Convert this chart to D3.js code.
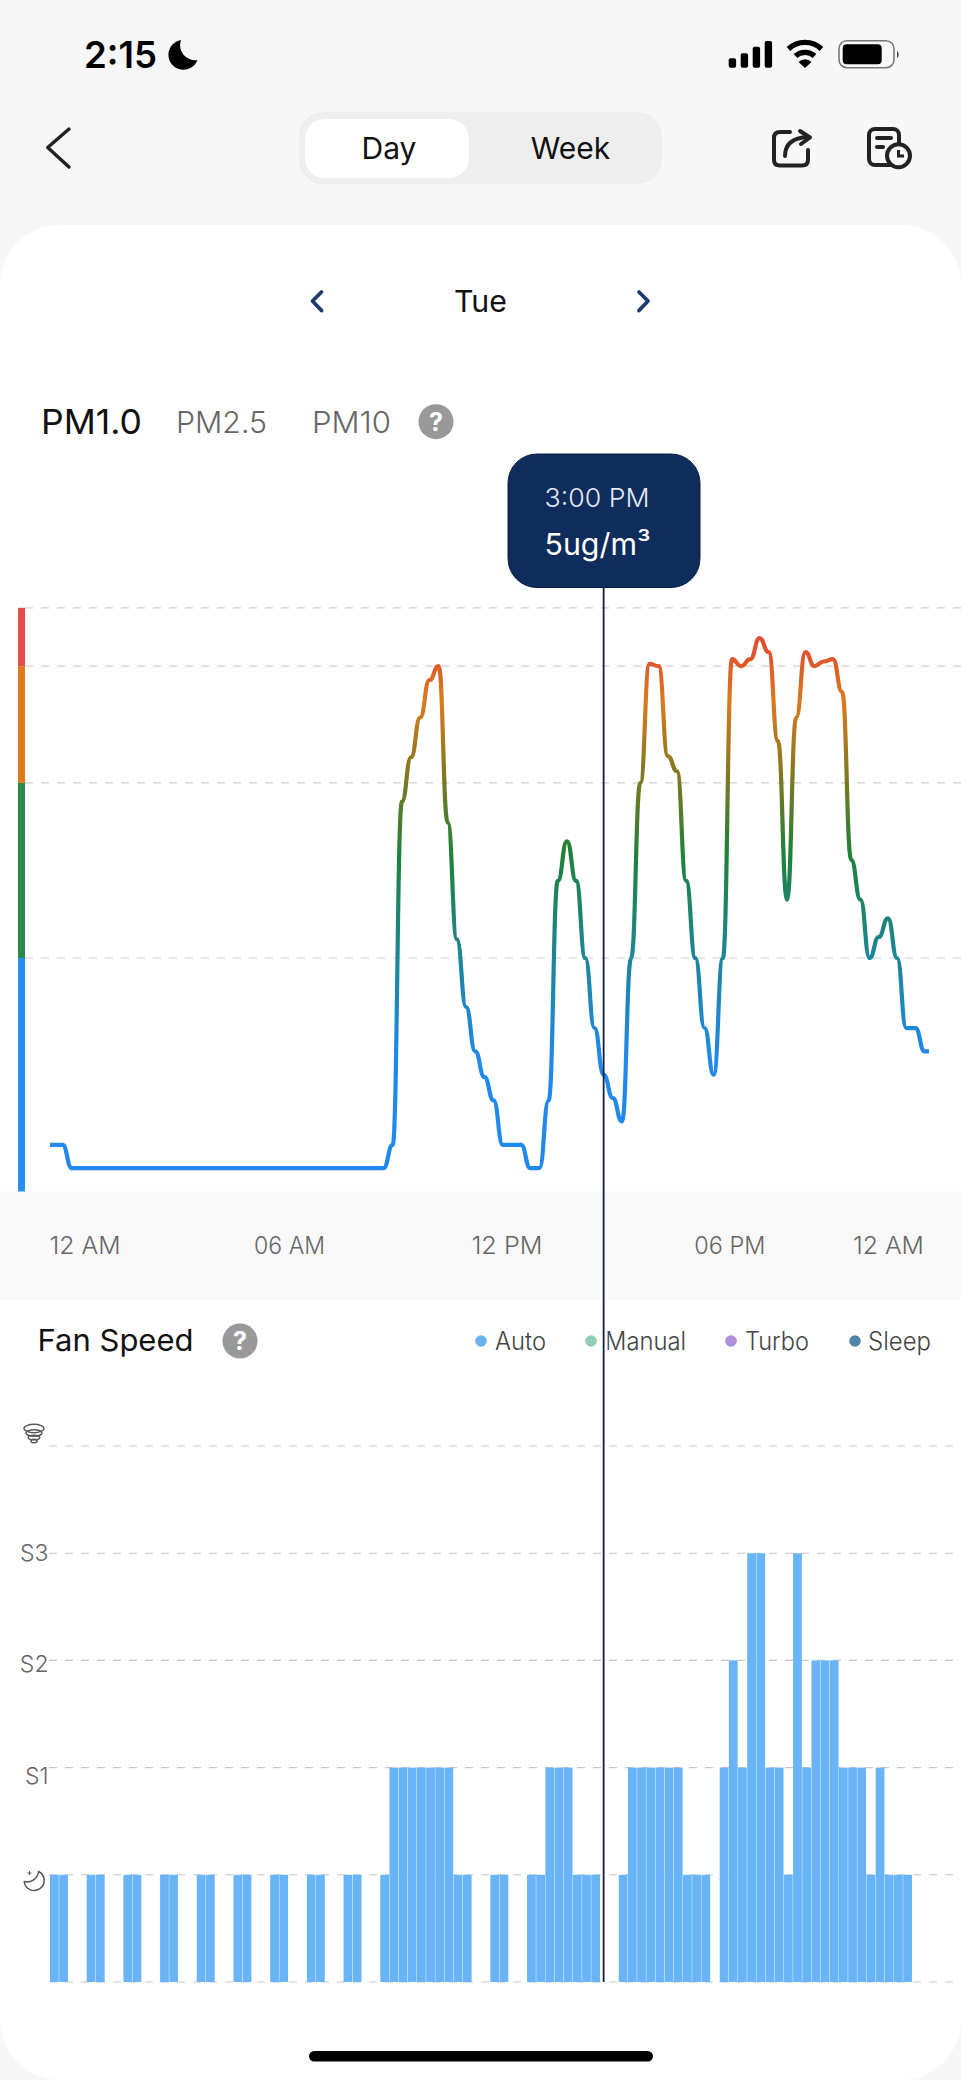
<!DOCTYPE html>
<html>
<head>
<meta charset="utf-8">
<style>
html,body{margin:0;padding:0;background:#f7f7f7;overflow:hidden}
svg{display:block}
text{font-family:Inter,"Noto Sans",sans-serif}
</style>
<script src="https://cdn.jsdelivr.net/npm/d3@7/dist/d3.min.js"></script>
</head>
<body>
<svg id="c" width="961" height="2080" viewBox="0 0 961 2080"></svg>
<script>
// ---- Data ----
const pmValues = [
 2,2,1,1,1,1,1,1,1,1,1,1,1,1,1,1,1,1,1,1,1,1,1,1,          // 12 AM - 6 AM
 1,1,1,1,1,1,1,1,1,1,1,1,1,2,16.7,18.6,20.3,21.9,22.5,15.8, // 6 AM - 12 PM
 10.8,7.9,6,4.9,3.9,2,2,2,1,1,3.9,13.3,15,13.3,10,7,        //
 5,4,3,10,17.5,22.6,22.5,18.65,18,13.3,10,7,5,10,22.8,22.5, // 3 PM -
 22.8,23.7,23.1,19.3,12.5,20.3,23.1,22.5,22.7,22.8,21.4,14.2,12.5,10,10.9,11.7,
 10,7,7,6
];
const pmLevels = [10, 17.5, 22.5, 25];
const pmBandColors = ["#2b8ff0", "#2a8a4e", "#dd7a1c", "#e05050"];
const pmTabs = ["PM1.0", "PM2.5", "PM10"];
const xTickSlots = [3.4, 25.7, 49.4, 73.7, 91];
const xTickLabels = ["12 AM", "06 AM", "12 PM", "06 PM", "12 AM"];

const fanValues = [
 1,1,0,0,1,1,0,0,1,1,0,0,1,1,0,0,1,1,0,0,1,1,0,0,
 1,1,0,0,1,1,0,0,1,1,0,0,1,2,2,2,2,2,2,2,1,1,0,0,
 1,1,0,0,1,1,2,2,2,1,1,1,0,0,1,2,2,2,2,2,2,1,1,1,
 0,2,3,2,4,4,2,2,1,4,2,3,3,3,2,2,2,1,2,1,1,1,0,0
];
const fanLevels = [0, 1, 2, 3, 4, 5];
const fanTickLabels = ["S1", "S2", "S3"];
const legendNames = ["Auto", "Manual", "Turbo", "Sleep"];
const legendColors = ["#69b4f0", "#8fcdb4", "#ac90dc", "#4f86a8"];
const selectedSlot = 60;
const tipTime = "3:00 PM";
const tipValue = "5ug/m³";

// ---- Scales ----
const svg = d3.select("#c");
const xLine = d3.scaleLinear().domain([0, 95]).range([53.4, 924.6]);
const yPm = d3.scaleLinear().domain([0, 25]).range([1191.5, 607.8]);
const xBar = d3.scaleBand().domain(d3.range(96)).range([50, 930.3]).paddingInner(0.045).paddingOuter(0);
const yFan = d3.scaleLinear().domain([0, 5]).range([1982, 1446]);

function T(x, y, s, size, weight, fill, opt) {
  opt = opt || {};
  const t = svg.append("text").attr("x", x).attr("y", y).text(s)
    .attr("font-size", size).attr("font-weight", weight).attr("fill", fill)
    .attr("text-anchor", opt.anchor || "start");
  if (opt.width) t.attr("textLength", opt.width).attr("lengthAdjust", "spacingAndGlyphs");
  return t;
}

// ---- Page and cards ----
svg.append("rect").attr("width", 961).attr("height", 2080).attr("fill", "#f7f7f7");
svg.append("path").attr("fill", "#ffffff")
  .attr("d", "M0 285 A60 60 0 0 1 60 225 H901 A60 60 0 0 1 961 285 V2020 A60 60 0 0 1 901 2080 H60 A60 60 0 0 1 0 2020 Z");
svg.append("rect").attr("x", 0).attr("y", yPm(0)).attr("width", 961).attr("height", 1300 - yPm(0)).attr("fill", "#f9f9f9");
svg.append("rect").attr("x", xLine(selectedSlot) - 3.6).attr("y", 1280).attr("width", 7.4).attr("height", 20).attr("fill", "#ffffff");

// ---- Status bar ----
T(84, 67.5, "2:15", 37, 600, "#000", {width: 73});
svg.append("path").attr("fill", "#000").attr("d", "M181 40 A15 15 0 1 0 197.5 60 A15 15 0 0 1 181 40 Z");
[[728.7, 58.3], [740.7, 53.3], [752.7, 46.7], [764.7, 41]].forEach(b => {
  svg.append("rect").attr("x", b[0]).attr("y", b[1]).attr("width", 7.4).attr("height", 67.7 - b[1]).attr("rx", 2).attr("fill", "#000");
});
const wifi = svg.append("g").attr("fill", "none").attr("stroke", "#000").attr("stroke-width", 5.2);
wifi.append("path").attr("d", "M788.5 49 A24 24 0 0 1 821.5 49");
wifi.append("path").attr("d", "M795.5 56 A14 14 0 0 1 814.5 56");
svg.append("path").attr("fill", "#000").attr("d", "M798.5 62 A9 9 0 0 1 811.5 62 L805 68 Z");
svg.append("rect").attr("x", 839).attr("y", 40.7).attr("width", 55).attr("height", 27).attr("rx", 8).attr("fill", "none").attr("stroke", "#777").attr("stroke-width", 1.6);
svg.append("rect").attr("x", 842.7).attr("y", 44.3).attr("width", 39).attr("height", 20).attr("rx", 4).attr("fill", "#000");
svg.append("path").attr("fill", "#444").attr("d", "M897 50.7 Q900.5 54.5 897 58.3 Z");

// ---- Navigation ----
const navStroke = {fill: "none", stroke: "#222", "stroke-width": 3.4, "stroke-linecap": "round", "stroke-linejoin": "round"};
function P(d, attrs) { const p = svg.append("path").attr("d", d); Object.entries(attrs).forEach(e => p.attr(e[0], e[1])); return p; }
P("M69 129 L47.7 147.5 L69 167", navStroke);
svg.append("rect").attr("x", 299).attr("y", 112).attr("width", 363).attr("height", 72).attr("rx", 24).attr("fill", "#eeeeee");
svg.append("rect").attr("x", 305).attr("y", 119).attr("width", 164).attr("height", 59).attr("rx", 20).attr("fill", "#ffffff");
T(389, 159, "Day", 30, 400, "#111", {anchor: "middle"});
T(570.5, 159, "Week", 30, 400, "#111", {anchor: "middle"});

const iconStroke = {fill: "none", stroke: "#222", "stroke-width": 4, "stroke-linecap": "round", "stroke-linejoin": "round"};
P("M790 132 H780 Q774 132 774 138 V160 Q774 165.5 780 165.5 H802 Q808 165.5 808 160 V150", iconStroke);
P("M785 156 Q785 138 808 137", iconStroke);
P("M800 131 L810 137.5 L801 144", iconStroke);
svg.append("rect").attr("x", 869).attr("y", 129).attr("width", 30).attr("height", 36).attr("rx", 6).attr("fill", "none").attr("stroke", "#222").attr("stroke-width", 4);
P("M877 138 H891", iconStroke);
P("M877 147 H883", iconStroke);
svg.append("circle").attr("cx", 898.5).attr("cy", 155.7).attr("r", 11.5).attr("fill", "#f7f7f7").attr("stroke", "#222").attr("stroke-width", 4);
P("M898.5 150 V156 H904", {fill: "none", stroke: "#222", "stroke-width": 3});

// ---- Date row ----
const chev = {fill: "none", stroke: "#1c3a6e", "stroke-width": 3.8, "stroke-linecap": "round", "stroke-linejoin": "round"};
P("M321.5 292 L312.5 301 L321.5 310.5", chev);
P("M639 292 L648 301 L639 310.5", chev);
T(480.5, 311.5, "Tue", 30, 400, "#111", {anchor: "middle", width: 53});

// ---- Pollutant tabs ----
T(41, 434, pmTabs[0], 34, 400, "#111", {width: 101});
T(176, 433, pmTabs[1], 30, 300, "#666", {width: 91});
T(312, 433, pmTabs[2], 30, 300, "#666", {width: 79});
function helpIcon(cx, cy) {
  svg.append("circle").attr("cx", cx).attr("cy", cy).attr("r", 17.5).attr("fill", "#999");
  T(cx, cy + 9, "?", 25, 700, "#fff", {anchor: "middle"});
}
helpIcon(436, 421.7);

// ---- PM chart ----
const defs = svg.append("defs");
const grad = defs.append("linearGradient").attr("id", "pmGrad").attr("gradientUnits", "userSpaceOnUse")
  .attr("x1", 0).attr("x2", 0).attr("y1", yPm(0)).attr("y2", yPm(25));
[[0.22, "#2189ee"], [0.38, "#1c86a4"], [0.58, "#1f8238"], [0.72, "#857820"], [0.84, "#dc7a1e"], [0.92, "#df532c"], [1, "#e04a44"]]
  .forEach(s => grad.append("stop").attr("offset", s[0]).attr("stop-color", s[1]));

svg.append("g").selectAll("line").data(pmLevels).join("line")
  .attr("x1", 25).attr("x2", 961).attr("y1", d => yPm(d)).attr("y2", d => yPm(d))
  .attr("stroke", "#cfcfcf").attr("stroke-width", 1.2).attr("stroke-dasharray", "8 8");

const bandEdges = [0].concat(pmLevels);
svg.append("g").selectAll("rect").data(pmBandColors).join("rect")
  .attr("x", 18).attr("width", 7)
  .attr("y", (d, i) => yPm(bandEdges[i + 1]))
  .attr("height", (d, i) => yPm(bandEdges[i]) - yPm(bandEdges[i + 1]))
  .attr("fill", d => d);

const pmPoints = pmValues.map((v, i) => [i, v]);
pmPoints.unshift([xLine.invert(50), pmValues[0]]);
pmPoints.push([xLine.invert(929), pmValues[pmValues.length - 1]]);
const lineGen = d3.line().x(d => xLine(d[0])).y(d => yPm(d[1])).curve(d3.curveBumpX);
svg.append("path").datum(pmPoints).attr("d", lineGen).attr("fill", "none")
  .attr("stroke", "url(#pmGrad)").attr("stroke-width", 4.2).attr("stroke-linejoin", "round");

// ---- X axis ----
const xAxis = d3.axisBottom(xLine).tickValues(xTickSlots).tickSize(0).tickPadding(0)
  .tickFormat((d, i) => xTickLabels[i]);
const gx = svg.append("g").attr("transform", "translate(0,1254)").call(xAxis);
gx.select(".domain").remove();
gx.selectAll("text").attr("dy", 0).attr("font-size", 24).attr("font-weight", 300).attr("fill", "#666")
  .attr("font-family", "Inter").attr("textLength", 71).attr("lengthAdjust", "spacingAndGlyphs");

// ---- Fan speed ----
T(37.5, 1351, "Fan Speed", 30, 400, "#111", {width: 156});
helpIcon(240, 1341);
const legendDots = [481, 591, 731, 855];
const legendText = [[495, 51], [605, 81], [745, 64], [868, 63]];
legendNames.forEach((n, i) => {
  svg.append("circle").attr("cx", legendDots[i]).attr("cy", 1341).attr("r", 5.8).attr("fill", legendColors[i]);
  T(legendText[i][0], 1349.5, n, 25, 300, "#444", {width: legendText[i][1]});
});

svg.append("rect").attr("x", xLine(selectedSlot) - 3.6).attr("y", 1300).attr("width", 7.4).attr("height", 680).attr("fill", "#ffffff");
svg.append("g").selectAll("line").data(fanLevels).join("line")
  .attr("x1", 49).attr("x2", 961).attr("y1", d => yFan(d)).attr("y2", d => yFan(d))
  .attr("stroke", "#c8c8c8").attr("stroke-width", 1.1).attr("stroke-dasharray", "8 8");

svg.append("g").selectAll("rect").data(fanValues.map((v, i) => ({i, v})).filter(d => d.v > 0)).join("rect")
  .attr("x", d => xBar(d.i)).attr("width", xBar.bandwidth())
  .attr("y", d => yFan(d.v)).attr("height", d => yFan(0) - yFan(d.v))
  .attr("fill", "#69b3f7");

const yAxis = d3.axisLeft(yFan).tickValues([2, 3, 4]).tickSize(0).tickPadding(0)
  .tickFormat((d, i) => fanTickLabels[i]);
const gy = svg.append("g").attr("transform", "translate(48.5,0)").call(yAxis);
gy.select(".domain").remove();
const labelNudge = [8, 3.5, -0.5];
gy.selectAll("text").attr("dy", (d, i) => 8 + labelNudge[i]).attr("font-size", 23).attr("font-weight", 300).attr("fill", "#666").attr("font-family", "Inter");

// Fan level icons
const fanIcon = svg.append("g").attr("fill", "none").attr("stroke", "#555").attr("stroke-width", 1.4);
[[34, 1428.5, 10, 4.2], [34, 1433, 8, 3.2], [34, 1437.5, 5.8, 2.4], [34, 1441, 3.2, 1.8]].forEach(e => {
  fanIcon.append("ellipse").attr("cx", e[0]).attr("cy", e[1]).attr("rx", e[2]).attr("ry", e[3]);
});
P("M38.5 1871.5 A10 10 0 1 1 24.2 1881.5 A11.5 11.5 0 0 0 38.5 1871.5 Z", {fill: "none", stroke: "#555", "stroke-width": 1.5, "stroke-linejoin": "round"});
P("M29.5 1871 v4 M27.5 1873 h4", {fill: "none", stroke: "#555", "stroke-width": 1});

// ---- Crosshair and tooltip ----
svg.append("line").attr("x1", xLine(selectedSlot)).attr("x2", xLine(selectedSlot)).attr("y1", 587).attr("y2", 1982)
  .attr("stroke", "#0f2040").attr("stroke-width", 1.8);
svg.append("rect").attr("x", 508).attr("y", 454).attr("width", 192).attr("height", 133.5).attr("rx", 29)
  .attr("fill", "#0f2d5c").attr("stroke", "#0a1f45").attr("stroke-width", 1);
T(544.5, 506.5, tipTime, 26, 300, "#e4e9f2", {width: 105});
T(544.5, 555, tipValue, 30, 400, "#ffffff", {width: 106});

// ---- Home indicator ----
svg.append("rect").attr("x", 309).attr("y", 2051).attr("width", 344).attr("height", 10.5).attr("rx", 5.2).attr("fill", "#000");
</script>
</body>
</html>
